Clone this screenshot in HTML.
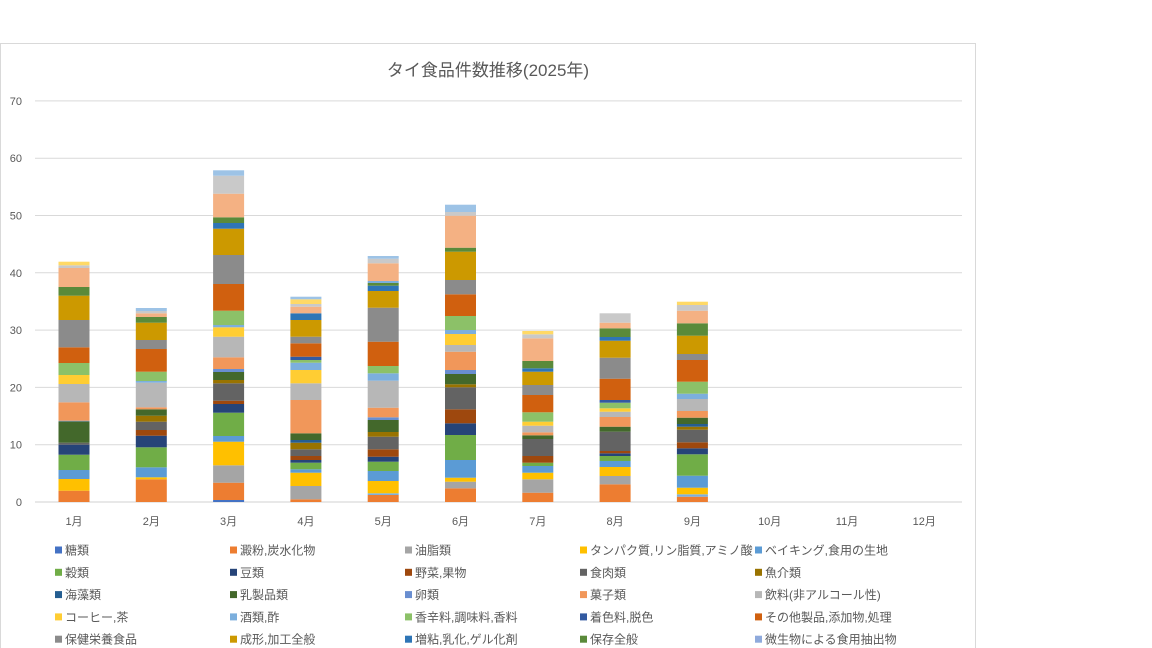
<!DOCTYPE html>
<html><head><meta charset="utf-8"><style>
body{margin:0;background:#fff;}
svg{display:block;font-family:"Liberation Sans","Noto Sans CJK JP",sans-serif;}
</style></head><body>
<svg id="s" width="1152" height="648" xmlns="http://www.w3.org/2000/svg">
<rect x="0.5" y="43.5" width="975" height="620" fill="#fff" stroke="#d9d9d9"/>
<text x="488" y="76" text-anchor="middle" font-size="17" fill="#595959">タイ食品件数推移(2025年)</text>
<g id="grid"></g><g id="bars"></g><g id="leg"></g>
</svg>
<script>
const NS="http://www.w3.org/2000/svg";
function el(p,t,a,txt){const e=document.createElementNS(NS,t);for(const k in a)e.setAttribute(k,a[k]);if(txt!==undefined)e.textContent=txt;p.appendChild(e);return e;}
const g=document.getElementById('grid');
for(let i=0;i<=7;i++){const y=502-i*57.3;
 el(g,'line',{x1:35,x2:962,y1:y,y2:y,stroke:i==0?'#d0d0d0':'#d9d9d9','stroke-width':1});
 el(g,'text',{x:22,y:y+4,'text-anchor':'end','font-size':11,fill:'#595959'},String(i*10));}
for(let i=0;i<12;i++){el(g,'text',{x:74+i*77.3,y:525,'text-anchor':'middle','font-size':11,fill:'#595959'},(i+1)+'月');}
const B=[
[[490.7,'#ED7D31'],[479,'#FFC000'],[470,'#5B9BD5'],[454.7,'#70AD47'],[444.7,'#264478'],[442.7,'#636363'],[421.3,'#43682B'],[420.7,'#698ED0'],[402.3,'#F1975A'],[384,'#B7B7B7'],[375,'#FFCD33'],[363,'#8CC168'],[347.3,'#D0600F'],[320,'#8B8B8B'],[295.7,'#CC9900'],[287,'#5A8A3A'],[268,'#F4B183'],[265.3,'#C9C9C9'],[261.7,'#FFD966']],
[[479.3,'#ED7D31'],[477.3,'#FFC000'],[467.3,'#5B9BD5'],[447.3,'#70AD47'],[435.7,'#264478'],[430,'#9E480E'],[421.7,'#636363'],[415.7,'#997300'],[409.3,'#43682B'],[407.3,'#F1975A'],[382.7,'#B7B7B7'],[381,'#7CAFDD'],[371.7,'#8CC168'],[349,'#D0600F'],[340,'#8B8B8B'],[322.7,'#CC9900'],[317,'#5A8A3A'],[313.3,'#F4B183'],[311,'#C9C9C9'],[308,'#9DC3E6']],
[[500,'#4472C4'],[482.7,'#ED7D31'],[465.3,'#A5A5A5'],[441.7,'#FFC000'],[436,'#5B9BD5'],[412.7,'#70AD47'],[404,'#264478'],[400.7,'#9E480E'],[383.3,'#636363'],[380,'#997300'],[372,'#43682B'],[369,'#698ED0'],[357.3,'#F1975A'],[336.7,'#B7B7B7'],[327.3,'#FFCD33'],[325,'#7CAFDD'],[310.7,'#8CC168'],[284,'#D0600F'],[255,'#8B8B8B'],[228.7,'#CC9900'],[223,'#2E75B6'],[217.3,'#5A8A3A'],[193.7,'#F4B183'],[175.7,'#C9C9C9'],[170.3,'#9DC3E6']],
[[499.3,'#ED7D31'],[486,'#A5A5A5'],[472.7,'#FFC000'],[469.3,'#5B9BD5'],[462.7,'#70AD47'],[460,'#264478'],[456,'#9E480E'],[449.3,'#636363'],[442.7,'#997300'],[440,'#255E91'],[433.3,'#43682B'],[400,'#F1975A'],[383.3,'#B7B7B7'],[370,'#FFCD33'],[362.7,'#7CAFDD'],[360,'#8CC168'],[356.7,'#335AA1'],[343.3,'#D0600F'],[336.7,'#8B8B8B'],[320,'#CC9900'],[313.3,'#2E75B6'],[306.7,'#F4B183'],[304,'#C9C9C9'],[299.3,'#FFD966'],[296.7,'#9DC3E6']],
[[495,'#ED7D31'],[493.3,'#7CAFDD'],[481,'#FFC000'],[471,'#5B9BD5'],[461.7,'#70AD47'],[456.7,'#264478'],[449.3,'#9E480E'],[436.7,'#636363'],[432,'#997300'],[420,'#43682B'],[417.3,'#698ED0'],[407.7,'#F1975A'],[380.7,'#B7B7B7'],[373.3,'#7CAFDD'],[366,'#8CC168'],[341.7,'#D0600F'],[307.7,'#8B8B8B'],[291,'#CC9900'],[285.7,'#2E75B6'],[283,'#5A8A3A'],[281,'#7CAFDD'],[263.3,'#F4B183'],[258.7,'#C9C9C9'],[256,'#9DC3E6']],
[[488.3,'#ED7D31'],[481.7,'#A5A5A5'],[477.7,'#FFC000'],[460,'#5B9BD5'],[435,'#70AD47'],[423.3,'#264478'],[409.3,'#9E480E'],[387.3,'#636363'],[384.3,'#997300'],[374,'#43682B'],[370,'#698ED0'],[351.7,'#F1975A'],[345,'#B7B7B7'],[334,'#FFCD33'],[330,'#7CAFDD'],[316,'#8CC168'],[294.3,'#D0600F'],[280,'#8B8B8B'],[251.7,'#CC9900'],[247.7,'#5A8A3A'],[215.7,'#F4B183'],[212,'#C9C9C9'],[204.7,'#9DC3E6']],
[[492.7,'#ED7D31'],[479.3,'#A5A5A5'],[472.7,'#FFC000'],[466,'#5B9BD5'],[462.7,'#70AD47'],[456,'#9E480E'],[439,'#636363'],[435.3,'#43682B'],[432.3,'#F1975A'],[425.7,'#B7B7B7'],[421.7,'#FFCD33'],[412.3,'#8CC168'],[395,'#D0600F'],[385,'#8B8B8B'],[371.7,'#CC9900'],[368.3,'#2E75B6'],[361,'#5A8A3A'],[338.3,'#F4B183'],[334.3,'#C9C9C9'],[331,'#FFD966']],
[[484.3,'#ED7D31'],[476,'#A5A5A5'],[467,'#FFC000'],[461,'#5B9BD5'],[456,'#70AD47'],[453.3,'#264478'],[451,'#9E480E'],[431.7,'#636363'],[426.7,'#43682B'],[417,'#F1975A'],[411.7,'#B7B7B7'],[408.3,'#FFCD33'],[402.7,'#8CC168'],[400,'#335AA1'],[378.7,'#D0600F'],[357.7,'#8B8B8B'],[340.7,'#CC9900'],[337,'#2E75B6'],[328.3,'#5A8A3A'],[322.7,'#F4B183'],[313.3,'#C9C9C9']],
[[496.7,'#ED7D31'],[494.3,'#7CAFDD'],[487.7,'#FFC000'],[475.7,'#5B9BD5'],[454.3,'#70AD47'],[448.3,'#264478'],[442.3,'#9E480E'],[429.7,'#636363'],[426.7,'#997300'],[424,'#255E91'],[417.7,'#43682B'],[411,'#F1975A'],[399,'#B7B7B7'],[393.7,'#7CAFDD'],[381.7,'#8CC168'],[360,'#D0600F'],[354,'#8B8B8B'],[335.7,'#CC9900'],[323.3,'#5A8A3A'],[310.7,'#F4B183'],[305,'#C9C9C9'],[301.7,'#FFD966']]
];
const bg=document.getElementById('bars');
B.forEach((segs,i)=>{const x=58.5+i*77.3;let prev=502;
 segs.forEach(([t,c])=>{el(bg,'rect',{x:x,y:t,width:31,height:Math.max(prev-t,0.5),fill:c});prev=t;});});
const L=[['糖類','#4472C4'],['澱粉,炭水化物','#ED7D31'],['油脂類','#A5A5A5'],['タンパク質,リン脂質,アミノ酸','#FFC000'],['ベイキング,食用の生地','#5B9BD5'],
['穀類','#70AD47'],['豆類','#264478'],['野菜,果物','#9E480E'],['食肉類','#636363'],['魚介類','#997300'],
['海藻類','#255E91'],['乳製品類','#43682B'],['卵類','#698ED0'],['菓子類','#F1975A'],['飲料(非アルコール性)','#B7B7B7'],
['コーヒー,茶','#FFCD33'],['酒類,酢','#7CAFDD'],['香辛料,調味料,香料','#8CC168'],['着色料,脱色','#335AA1'],['その他製品,添加物,処理','#D0600F'],
['保健栄養食品','#8B8B8B'],['成形,加工全般','#CC9900'],['増粘,乳化,ゲル化剤','#2E75B6'],['保存全般','#5A8A3A'],['微生物による食用抽出物','#8FAADC']];
const lg=document.getElementById('leg');
L.forEach(([n,c],k)=>{const col=k%5,row=Math.floor(k/5);const x=55+col*175,y=550+row*22.3;
 el(lg,'rect',{x:x,y:y-3.5,width:7,height:7,fill:c});
 el(lg,'text',{x:x+10,y:y+4.5,'font-size':12,fill:'#595959'},n);});
</script>
</body></html>
